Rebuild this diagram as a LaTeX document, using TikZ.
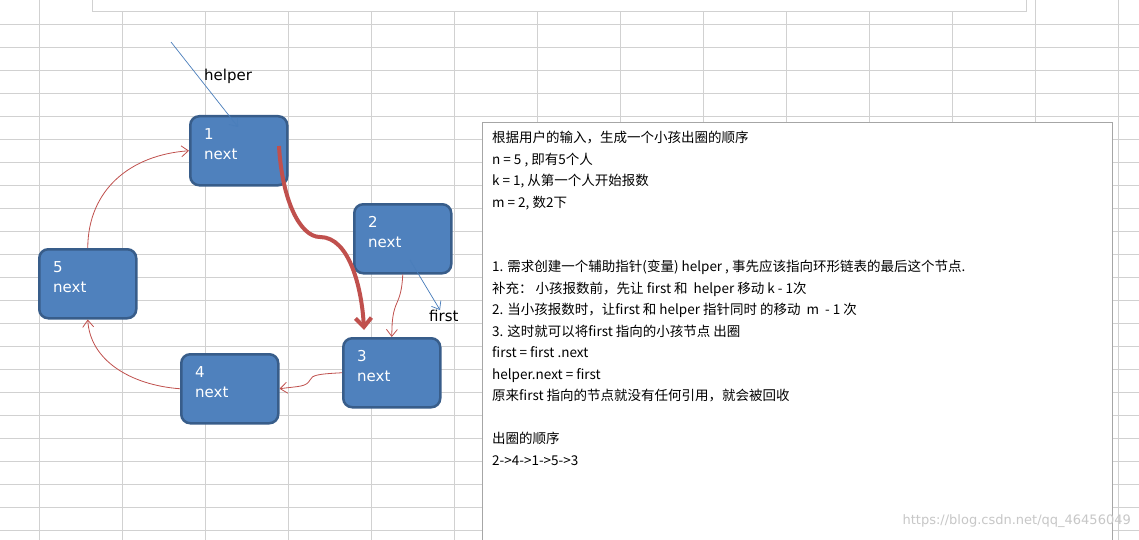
\documentclass[tikz,border=0pt]{standalone}
\usepackage{fontspec}
\setmainfont{DejaVu Sans}
\newfontfamily\cjk{Noto Sans CJK SC}
\usetikzlibrary{arrows.meta}
\definecolor{nodefill}{HTML}{4F81BD}
\definecolor{nodeline}{HTML}{385D8A}
\definecolor{redl}{HTML}{C0504D}
\definecolor{bluel}{HTML}{4A7EBB}
\tikzset{
 nd/.style={draw=nodeline,line width=2.5pt,fill=nodefill,rounded corners=9pt,minimum width=97pt,minimum height=69pt,text=white,align=left,anchor=north west,inner sep=0pt},
 rl/.style={draw=redl,line width=0.8pt,-{Straight Barb[length=7pt,width=11pt]}},
 bl/.style={draw=bluel,line width=0.7pt,-{Straight Barb[length=7pt,width=11pt]}},
 grid/.style={draw=black!18,line width=0.8pt}
}
\begin{document}
\begin{tikzpicture}[x=1pt,y=-1pt]
\useasboundingbox (0,0) rectangle (1139,540);
\fill[white] (0,0) rectangle (1139,540);
\foreach \x in {39,122,...,1139} \draw[grid] (\x,0) -- (\x,540);
\foreach \y in {24,47,...,540} \draw[grid] (0,\y) -- (1139,\y);
\draw[grid,fill=white] (92,-2) rectangle (1026,11);
% nodes
\node[nd] (n1) at (189,115) {};
\node[nd] (n2) at (353,203) {};
\node[nd] (n3) at (342,337) {};
\node[nd] (n4) at (180,353) {};
\node[nd] (n5) at (38,248) {};
\foreach \n in {1,2,3,4,5}{
 \node[text=white,font=\fontsize{15}{20}\selectfont,align=left,anchor=north west,inner sep=0pt] at ([xshift=15pt,yshift=-13pt]n\n.north west) {\n\\next};
}
% red connectors
\draw[rl] (n5.north) .. controls (88,190) and (130,155) .. (n1.west);
\draw[rl] (n4.west) .. controls (130,385) and (90,360) .. (n5.south);
\draw[rl] (n3.west) .. controls (318,374) and (312,375) .. (310,380) .. controls (306,387) and (300,386) .. (n4.east);
\draw[rl] (n2.south) .. controls (402,290) and (400,296) .. (396,305) .. controls (392,315) and (392,325) .. (n3.north);
\draw[redl,line width=4pt,-{Straight Barb[length=9pt,width=16pt]}] (279,146) .. controls (282,200) and (300,237) .. (320,237) .. controls (350,237) and (362,290) .. (364,330);
% blue pointers
\coordinate (h0) at (171,42);
\coordinate (f1) at (440,310);
\draw[bl] (h0) -- ([xshift=49pt,yshift=-12pt]n1.north west);
\draw[bl] ([xshift=57pt,yshift=-57pt]n2.north west) -- (f1);
\node[anchor=west,inner sep=0pt,font=\fontsize{15}{18}\selectfont] (hl) at (204,76) {helper};
\node[anchor=west,inner sep=0pt,font=\fontsize{15}{18}\selectfont] (fl) at (429,316) {first};
% text box
\draw[black!35,fill=white,line width=0.8pt] (482,122) rectangle (1112,545);
\node[anchor=north west,inner sep=0pt,align=left,font=\cjk\fontsize{13.5}{21.5}\selectfont] (tx) at (492,131) {%
根据用户的输入，生成一个小孩出圈的顺序\\
n = 5 , 即有5个人\\
k = 1, 从第一个人开始报数\\
m = 2, 数2下\\
\mbox{}\\
\mbox{}\\
1.  需求创建一个辅助指针(变量) helper , 事先应该指向环形链表的最后这个节点.\\
补充：  小孩报数前，先让 first 和 \ helper 移动 k - 1次\\
2.  当小孩报数时，让first 和 helper 指针同时 的移动 \ m \ - 1 次\\
3.  这时就可以将first 指向的小孩节点 出圈\\
first = first .next\\
helper.next = first\\
原来first 指向的节点就没有任何引用，就会被回收\\
\mbox{}\\
出圈的顺序\\
2->4->1->5->3};
\node[anchor=east,inner sep=0pt,text=black!22,font=\fontsize{13}{15}\selectfont] (wm) at (1131,521) {https://blog.csdn.net/qq\_46456049};
\end{tikzpicture}
\end{document}
